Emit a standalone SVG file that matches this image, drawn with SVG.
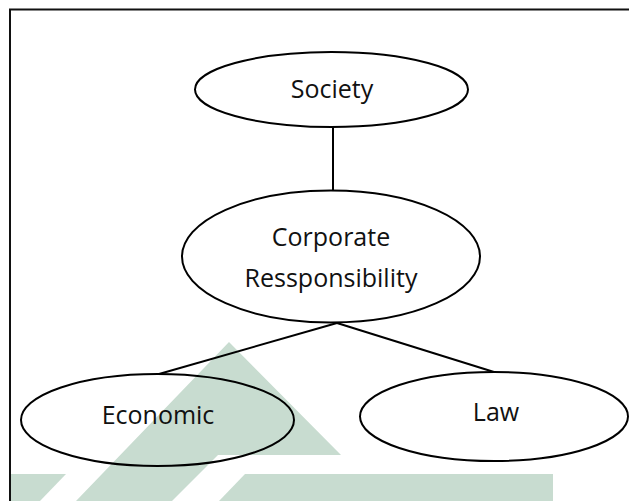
<svg xmlns="http://www.w3.org/2000/svg" width="629" height="501" viewBox="0 0 629 501">
  <style>
    .frame { fill: none; stroke: #111; stroke-width: 2; }
    .mark { fill: #c8dcd0; stroke: none; }
    .node ellipse { fill: none; stroke: #000; stroke-width: 2; }
    .node text { font-family: "Open Sans", "Liberation Sans", sans-serif; font-size: 25px; fill: #111; text-anchor: middle; }
    .edge { stroke: #000; stroke-width: 2; fill: none; }
  </style>

  <rect width="629" height="501" fill="#fff"/>

  <!-- background emblem -->
  <g id="emblem">
    <polygon class="mark" points="229,342 341,455 218,455 172,501 76,501"/>
    <polygon class="mark" points="245,474 553,474 553,501 219,501"/>
    <polygon class="mark" points="10,474 66,474 40,501 10,501"/>
  </g>

  <!-- page frame (open on the right and bottom) -->
  <path class="frame" d="M629,9.5 H10 V501"/>

  <g id="connectors">
    <line class="edge" x1="333" y1="127" x2="333" y2="190.5"/>
    <line class="edge" x1="337" y1="323" x2="159" y2="374"/>
    <line class="edge" x1="337" y1="323" x2="494" y2="372"/>
  </g>

  <g id="society" class="node">
    <ellipse cx="331.5" cy="89.5" rx="136.5" ry="37.5"/>
    <text x="332" y="97.5">Society</text>
  </g>

  <g id="corporate-responsibility" class="node">
    <ellipse cx="331" cy="256.5" rx="149" ry="66"/>
    <text x="331" y="245.5">Corporate</text>
    <text x="331" y="286.5">Ressponsibility</text>
  </g>

  <g id="economic" class="node">
    <ellipse cx="157.5" cy="420" rx="136.5" ry="46"/>
    <text x="158" y="424">Economic</text>
  </g>

  <g id="law" class="node">
    <ellipse cx="494" cy="416.5" rx="134" ry="44.5"/>
    <text x="496" y="420.5">Law</text>
  </g>
</svg>
